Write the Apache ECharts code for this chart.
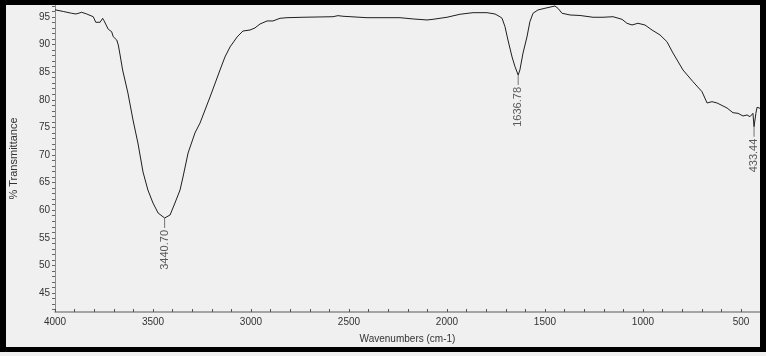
<!DOCTYPE html>
<html>
<head>
<meta charset="utf-8">
<script src="https://cdn.jsdelivr.net/npm/echarts@6/dist/echarts.min.js"></script>
<style>
html,body{margin:0;padding:0;background:#f0f0f0;}
#chart{position:absolute;left:0;top:0;width:766px;height:356px;}
#frame{position:absolute;left:0;top:0;width:766px;height:352px;box-sizing:border-box;
 border-top:5px solid #000;border-left:6px solid #000;border-right:6px solid #000;border-bottom:5px solid #000;
 pointer-events:none;z-index:10;}
</style>
</head>
<body>
<div id="chart"></div>
<div id="frame"></div>
<script>
// wavenumber (cm-1)
const waves = [4000,3958,3915,3907,3893,3864,3838,3805,3792,3770,3757,3750,3728,3711,3703,3685,3677,3668,3655,3628,3602,3577,3551,3526,3500,3474,3440.7,3413,3388,3362,3347,3321,3286,3260,3209,3158,3133,3107,3071,3041,3005,2980,2954,2918,2888,2852,2816,2735,2582,2556,2531,2408,2240,2173,2102,2071,2000,1934,1867,1796,1755,1730,1719,1704,1689,1668,1653,1636.78,1628,1612,1592,1577,1561,1536,1500,1464,1449,1434,1413,1372,1321,1255,1204,1153,1107,1082,1056,1026,990,954,913,878,847,796,745,699,673,648,622,571,541,515,490,469,454,439,433.44,424,418,403];
// % transmittance
const trans = [96.3,96.0,95.67,95.85,95.54,95.85,95.54,95.05,94.04,94.04,94.76,94.33,92.77,92.34,91.43,90.83,89.93,88.12,85.40,81.23,76.34,72.17,66.92,63.66,61.30,59.49,58.59,59.13,61.30,63.66,66.01,70.36,73.99,75.80,80.51,85.40,87.75,89.57,91.38,92.46,92.64,93.01,93.73,94.28,94.28,94.76,94.87,94.95,95.05,95.24,95.13,94.87,94.87,94.64,94.46,94.58,94.95,95.49,95.78,95.78,95.54,95.05,94.76,93.24,90.83,87.75,86.00,84.49,85.40,88.48,91.38,94.15,95.67,96.27,96.58,96.87,96.99,96.58,95.67,95.36,95.27,94.95,94.95,95.05,94.58,93.86,93.55,93.86,93.55,92.64,91.74,90.53,88.48,85.40,83.28,81.47,79.42,79.66,79.42,78.51,77.66,77.55,77.07,77.25,76.94,77.55,75.13,77.55,78.64,78.46];
// peak annotations
const peakWave = [3440.70, 1636.78, 433.44];
const peakT = [58.59, 84.49, 75.13];
const peakText = ['3440.70', '1636.78', '433.44'];
// axis ticks
const xLabels = [4000,3500,3000,2500,2000,1500,1000,500];
const yLabels = [45,50,55,60,65,70,75,80,85,90,95];
const xTicks = []; for (let v = 500; v <= 4000; v += 100) xTicks.push(v);
const yTicks = []; for (let v = 42; v <= 97; v += 1) yTicks.push(v);

const FONT = "'Liberation Sans', Arial, sans-serif";
const chart = echarts.init(document.getElementById('chart'), null, {renderer:'canvas'});
chart.setOption({
  backgroundColor: '#f0f0f0',
  animation: false,
  grid: {left: 55, right: 6, top: 5, bottom: 44},
  xAxis: {
    type: 'value', inverse: true, min: 403, max: 4000,
    name: 'Wavenumbers (cm-1)', nameLocation: 'middle', nameGap: 22,
    nameTextStyle: {fontFamily: FONT, fontSize: 10, color: '#333'},
    axisLine: {show: true, lineStyle: {color: '#8c8c8c', width: 1.5}},
    axisTick: {show: true, inside: true, length: 3, customValues: xTicks, lineStyle: {color: '#555'}},
    axisLabel: {customValues: xLabels, formatter: v => String(v), fontFamily: FONT, fontSize: 10, color: '#333', margin: 5},
    splitLine: {show: false}
  },
  yAxis: {
    type: 'value', min: 41.56, max: 97.17,
    name: '% Transmittance', nameLocation: 'middle', nameGap: 36,
    nameTextStyle: {fontFamily: FONT, fontSize: 11, color: '#333'},
    axisLine: {show: true, lineStyle: {color: '#8c8c8c', width: 1}},
    axisTick: {show: true, length: 3, customValues: yTicks, lineStyle: {color: '#666'}},
    axisLabel: {customValues: yLabels, formatter: v => String(v), fontFamily: FONT, fontSize: 10, color: '#333', margin: 5},
    splitLine: {show: false}
  },
  series: [
    {
      type: 'line', showSymbol: false, symbol: 'none',
      data: waves.map((w, i) => [w, trans[i]]),
      lineStyle: {color: '#1e1e1e', width: 1},
      z: 3
    },
    {
      type: 'scatter',
      data: peakWave.map((w, i) => ({value: [w, peakT[i]], name: peakText[i]})),
      symbol: 'rect', symbolSize: [1, 10], symbolOffset: [0, 5],
      itemStyle: {color: '#555'},
      label: {
        show: true, formatter: '{b}', position: 'bottom', distance: 2,
        rotate: 90, align: 'right', verticalAlign: 'middle',
        fontFamily: FONT, fontSize: 11, color: '#333'
      },
      z: 4
    }
  ]
});
</script>
</body>
</html>
